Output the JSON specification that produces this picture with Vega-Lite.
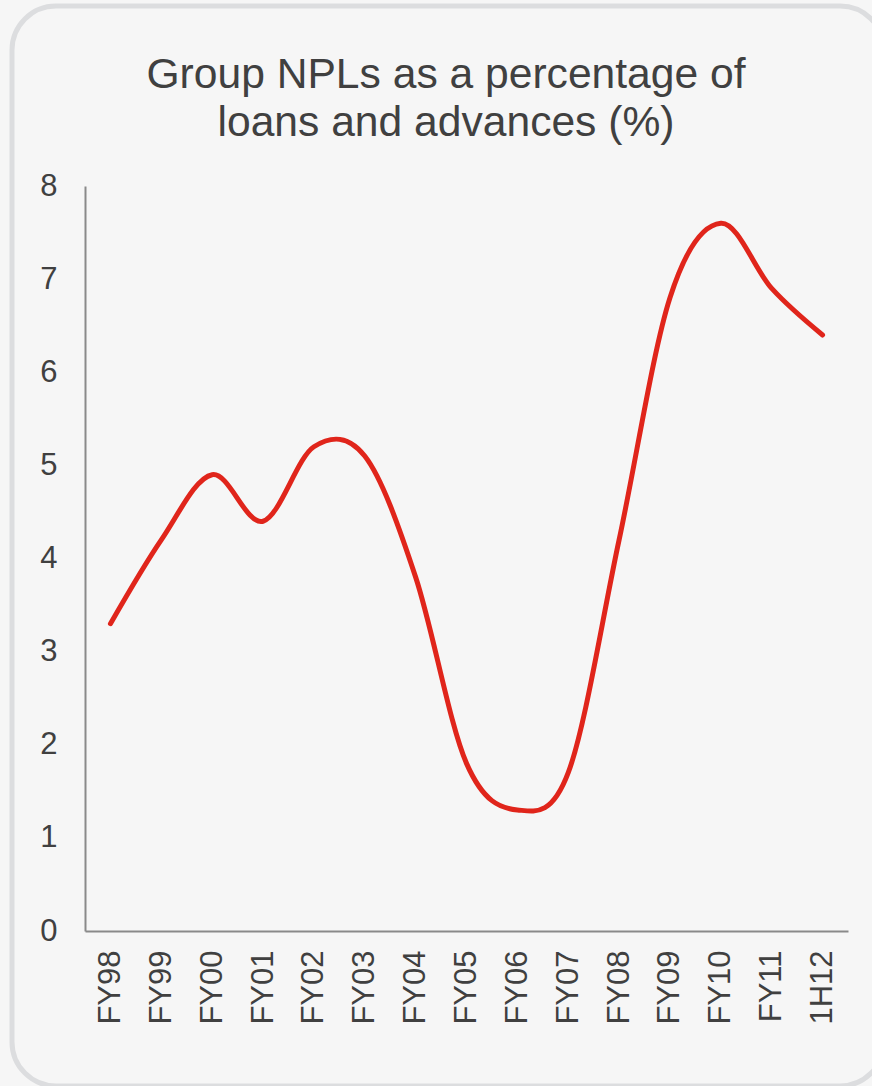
{
  "$schema": "https://vega.github.io/schema/vega-lite/v6.json",
  "autosize": {"type": "none"},
  "padding": {"left": 12, "top": 6, "right": 0, "bottom": 0},
  "width": 872,
  "height": 1080,
  "background": "#f6f6f6",
  "config": {
    "view": {"fill": "#f6f6f6", "stroke": "#dcdddf", "strokeWidth": 5, "cornerRadius": 44},
    "font": "Liberation Sans"
  },
  "title": {
    "text": ["Group NPLs as a percentage of", "loans and advances (%)"],
    "anchor": "middle",
    "frame": "group",
    "fontSize": 42.6,
    "lineHeight": 48,
    "font": "Liberation Sans",
    "fontWeight": "normal",
    "color": "#404040",
    "offset": -139,
    "dx": -2
  },
  "data": {
    "values": [
      {"period": "FY98", "npl": 3.3},
      {"period": "FY99", "npl": 4.2},
      {"period": "FY00", "npl": 4.9},
      {"period": "FY01", "npl": 4.4},
      {"period": "FY02", "npl": 5.2},
      {"period": "FY03", "npl": 5.1},
      {"period": "FY04", "npl": 3.8},
      {"period": "FY05", "npl": 1.8},
      {"period": "FY06", "npl": 1.3},
      {"period": "FY07", "npl": 1.7},
      {"period": "FY08", "npl": 4.2},
      {"period": "FY09", "npl": 6.8},
      {"period": "FY10", "npl": 7.6},
      {"period": "FY11", "npl": 6.9},
      {"period": "1H12", "npl": 6.4}
    ]
  },
  "mark": {
    "type": "line",
    "color": "#e0251b",
    "strokeWidth": 5,
    "strokeCap": "round",
    "interpolate": "cardinal",
    "tension": 0
  },
  "encoding": {
    "x": {
      "field": "period",
      "type": "nominal",
      "sort": null,
      "scale": {"type": "point", "range": [73, 836], "padding": 0.5},
      "axis": {
        "title": null,
        "offset": -155,
        "labelAngle": -90,
        "labelFontSize": 31,
        "labelColor": "#404040",
        "labelFont": "Liberation Sans",
        "labelPadding": 19,
        "ticks": false,
        "tickSize": 0,
        "domainColor": "#8a8a8a",
        "domainWidth": 2,
        "grid": false
      }
    },
    "y": {
      "field": "npl",
      "type": "quantitative",
      "scale": {"domain": [0, 8], "range": [925, 180], "nice": false},
      "axis": {
        "title": null,
        "offset": -73,
        "values": [0, 1, 2, 3, 4, 5, 6, 7, 8],
        "labelFontSize": 31,
        "labelColor": "#404040",
        "labelFont": "Liberation Sans",
        "labelPadding": 28,
        "ticks": false,
        "tickSize": 0,
        "domainColor": "#8a8a8a",
        "domainWidth": 2,
        "grid": false
      }
    }
  }
}
